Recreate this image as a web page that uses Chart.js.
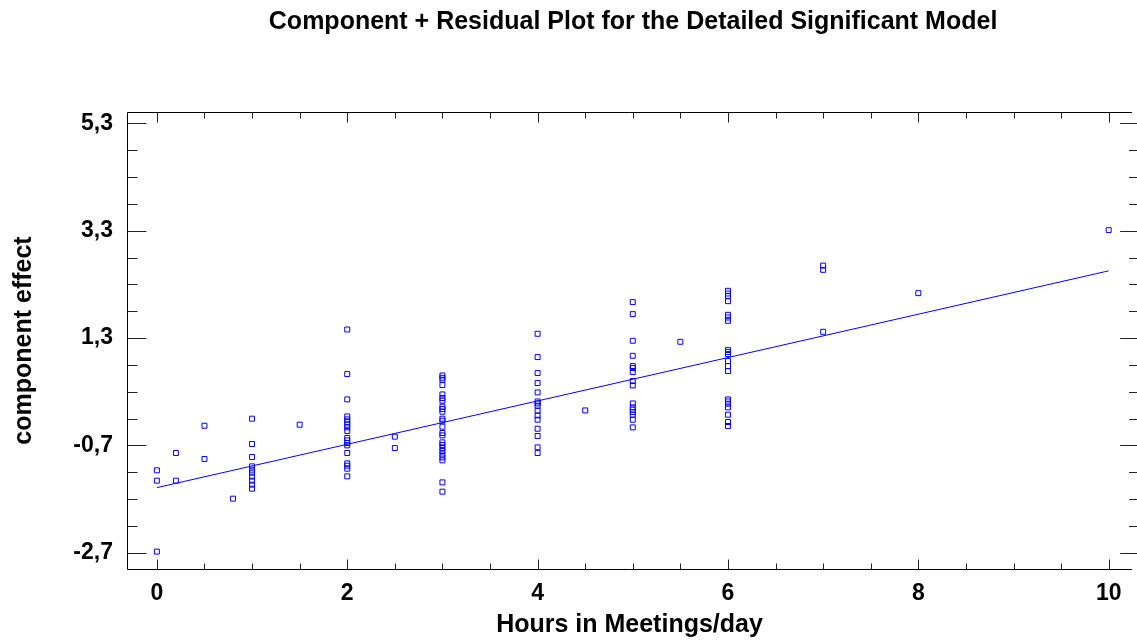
<!DOCTYPE html>
<html>
<head>
<meta charset="utf-8">
<script src="https://cdn.jsdelivr.net/npm/chart.js@4.4.1/dist/chart.umd.min.js"></script>
<style>
  html, body { margin: 0; padding: 0; background: #fff; overflow: hidden; }
  #c { display: block; }
</style>
</head>
<body>
<canvas id="c" width="1137" height="640" style="width:1137px;height:640px"></canvas>
<script>
// ---- data ----
const hourLevels = [0, 0.2, 0.5, 0.8, 1, 1.5, 2, 2.5, 3, 4, 4.5, 5, 5.5, 6, 7, 8, 10];
const effectsByLevel = [
  [-1.163, -1.355, -2.676],
  [-0.84, -1.355],
  [-0.332, -0.951],
  [-1.69],
  [-0.201, -0.672, -0.914, -1.089, -1.150, -1.206, -1.280, -1.355, -1.429, -1.504],
  [-0.313],
  [1.46, 0.63, 0.158, -0.159, -0.214, -0.263, -0.313, -0.363, -0.43, -0.56, -0.605, -0.654, -0.698, -0.84, -1.033, -1.076, -1.132, -1.275],
  [-0.536, -0.747],
  [0.604, 0.561, 0.524, 0.425, 0.251, 0.184, 0.134, 0.022, -0.021, -0.071, -0.201, -0.239, -0.35, -0.467, -0.512, -0.642, -0.69, -0.747, -0.803, -0.866, -0.922, -0.977, -1.387, -1.56],
  [1.38, 0.946, 0.649, 0.463, 0.288, 0.12, 0.083, 0.04, -0.053, -0.14, -0.22, -0.388, -0.523, -0.735, -0.84],
  [-0.047],
  [1.97, 1.746, 1.25, 0.97, 0.779, 0.742, 0.667, 0.5, 0.418, 0.083, 0.009, -0.034, -0.077, -0.127, -0.22, -0.363],
  [1.231],
  [2.18, 2.13, 2.081, 1.988, 1.733, 1.683, 1.622, 1.077, 1.04, 1.002, 0.872, 0.779, 0.686, 0.158, 0.12, 0.078, 0.009, -0.127, -0.263, -0.337],
  [2.65, 2.571, 1.417],
  [2.137],
  [3.31]
];
const fitHours = [0, 10];
const fitEffects = [-1.485, 2.552];

const xMajorTicks = [0, 2, 4, 6, 8, 10];
const xMinorTicks = [0.5, 1, 1.5, 2.5, 3, 3.5, 4.5, 5, 5.5, 6.5, 7, 7.5, 8.5, 9, 9.5];
const yMajorTicks = [-2.7, -0.7, 1.3, 3.3, 5.3];
const yMinorTicks = [-2.2, -1.7, -1.2, -0.2, 0.3, 0.8, 1.8, 2.3, 2.8, 3.8, 4.3, 4.8];

const titleText = 'Component + Residual Plot for the Detailed Significant Model';
const xTitle = 'Hours in Meetings/day';
const yTitle = 'component effect';

// ---- build ----
const points = [];
hourLevels.forEach((h, i) => effectsByLevel[i].forEach(v => points.push({x: h, y: v})));
const fitLine = fitHours.map((h, i) => ({x: h, y: fitEffects[i]}));

const FONT = '"Liberation Sans", Arial, sans-serif';
const isMajor = (v, arr) => arr.some(m => Math.abs(m - v) < 1e-9);

const frame = {
  id: 'frame',
  afterDraw(chart) {
    const {ctx, chartArea: a, scales: {x, y}} = chart;
    const L = Math.round(a.left) + 0.5, T = Math.round(a.top) + 0.5, B = Math.round(a.bottom) + 0.5;
    // right frame edge lies just outside the visible page (as in the reference)
    const R = x.getPixelForValue(10.32);
    ctx.save();
    ctx.strokeStyle = '#000';
    ctx.lineWidth = 1;
    ctx.beginPath();
    ctx.moveTo(a.right, T); ctx.lineTo(L, T); ctx.lineTo(L, B); ctx.lineTo(a.right, B);
    ctx.stroke();
    ctx.strokeStyle = '#222';
    ctx.beginPath();
    x.ticks.forEach(t => {
      const px = Math.round(x.getPixelForValue(t.value)) + 0.5;
      const len = isMajor(t.value, xMajorTicks) ? 10 : 6;
      ctx.moveTo(px, B); ctx.lineTo(px, B - len);
      ctx.moveTo(px, T); ctx.lineTo(px, T + len);
    });
    y.ticks.forEach(t => {
      const py = Math.round(y.getPixelForValue(t.value)) + 0.5;
      const len = isMajor(t.value, yMajorTicks) ? 19 : 10;
      ctx.moveTo(L, py); ctx.lineTo(L + len, py);
      ctx.moveTo(R, py); ctx.lineTo(R - len, py);
    });
    ctx.stroke();
    ctx.restore();
  }
};

new Chart(document.getElementById('c'), {
  type: 'scatter',
  data: {
    datasets: [
      {
        type: 'line',
        data: fitLine,
        borderColor: '#0000ff',
        borderWidth: 1,
        pointRadius: 0,
        fill: false,
        tension: 0
      },
      {
        data: points,
        pointStyle: 'rect',
        pointRadius: 3.5,
        pointBorderWidth: 1,
        borderColor: '#0000ff',
        backgroundColor: 'rgba(0,0,0,0)'
      }
    ]
  },
  options: {
    responsive: false,
    devicePixelRatio: 1,
    animation: false,
    layout: { padding: 0 },
    plugins: {
      legend: { display: false },
      tooltip: { enabled: false },
      title: {
        display: true,
        text: titleText,
        fullSize: true,
        align: 'start',
        color: '#000',
        font: { family: FONT, size: 25, weight: 'bold' },
        padding: { top: 7, bottom: 75 }
      }
    },
    scales: {
      x: {
        type: 'linear',
        min: -0.314,
        max: 10.245,
        afterBuildTicks: s => { s.ticks = xMajorTicks.concat(xMinorTicks).sort((p, q) => p - q).map(v => ({value: v})); },
        afterFit: s => { s.height = 71; s.paddingLeft = 0; s.paddingRight = 0; },
        grid: { display: false, drawTicks: false },
        border: { display: false },
        ticks: {
          autoSkip: false,
          maxRotation: 0,
          padding: 11,
          color: '#000',
          font: { family: FONT, size: 23, weight: 'bold' },
          callback: v => isMajor(v, xMajorTicks) ? String(Math.round(v)) : ''
        },
        title: {
          display: true,
          text: xTitle,
          align: 'center',
          color: '#000',
          font: { family: FONT, size: 25, weight: 'bold' },
          padding: { top: 0, bottom: 0 }
        }
      },
      y: {
        type: 'linear',
        min: -3.0,
        max: 5.51,
        afterBuildTicks: s => { s.ticks = yMajorTicks.concat(yMinorTicks).sort((p, q) => p - q).map(v => ({value: v})); },
        afterFit: s => { s.width = 127; s.paddingTop = 0; s.paddingBottom = 0; },
        grid: { display: false, drawTicks: false },
        border: { display: false },
        ticks: {
          autoSkip: false,
          padding: 14,
          color: '#000',
          font: { family: FONT, size: 23, weight: 'bold' },
          callback: v => isMajor(v, yMajorTicks) ? v.toFixed(1).replace('.', ',') : ''
        },
        title: {
          display: true,
          text: yTitle,
          color: '#000',
          font: { family: FONT, size: 25, weight: 'bold' },
          padding: { top: 9, bottom: 0 }
        }
      }
    }
  },
  plugins: [frame, {
    // centre the chart title over the full (partly off-page) plot frame
    id: 'centreTitles',
    beforeDraw(chart) {
      const cx = (chart.chartArea.left + chart.scales.x.getPixelForValue(10.32)) / 2;
      const t = chart.titleBlock;
      if (t) {
        const ctx = chart.ctx; ctx.save();
        ctx.font = 'bold 25px ' + FONT;
        const w = ctx.measureText(titleText).width; ctx.restore();
        t.left = cx - w / 2; t.right = cx + w / 2; t.width = w;
      }
    }
  }]
});
</script>
</body>
</html>
